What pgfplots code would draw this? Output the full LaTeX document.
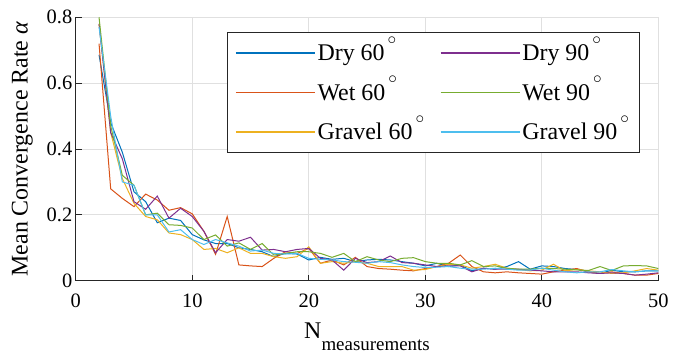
\documentclass[border=0pt]{standalone}
\usepackage{fontspec}
\setmainfont{Liberation Serif}
\usepackage{pgfplots}
\usepackage{pgfplotstable}
\pgfplotsset{compat=1.18}
\definecolor{cA}{HTML}{0072BD}
\definecolor{cB}{HTML}{D95319}
\definecolor{cC}{HTML}{EDB120}
\definecolor{cD}{HTML}{7E2F8E}
\definecolor{cE}{HTML}{77AC30}
\definecolor{cF}{HTML}{4DBEEE}
\definecolor{axc}{HTML}{262626}
\newcommand{\dg}{\hspace{3bp}\raisebox{16.5bp}{\fontsize{17}{17}\selectfont$\circ$}}

% x  Dry60  Wet60  Gravel60  Dry90  Wet90  Gravel90
\pgfplotstableread{
x  d60   w60   g60   d90   w90   g90
2  0.686 0.720 0.780 0.780 0.800 0.770
3  0.480 0.279 0.450 0.450 0.470 0.500
4  0.390 0.250 0.310 0.370 0.320 0.300
5  0.270 0.225 0.235 0.240 0.290 0.290
6  0.240 0.263 0.195 0.217 0.200 0.200
7  0.176 0.245 0.185 0.257 0.205 0.200
8  0.190 0.214 0.145 0.190 0.170 0.148
9  0.183 0.222 0.140 0.220 0.168 0.155
10 0.140 0.203 0.125 0.195 0.160 0.125
11 0.124 0.150 0.095 0.150 0.125 0.110
12 0.113 0.080 0.098 0.085 0.139 0.125
13 0.113 0.195 0.085 0.125 0.105 0.115
14 0.100 0.048 0.100 0.120 0.115 0.105
15 0.095 0.045 0.083 0.132 0.095 0.090
16 0.088 0.043 0.083 0.093 0.113 0.093
17 0.073 0.068 0.073 0.095 0.078 0.083
18 0.083 0.088 0.068 0.088 0.083 0.081
19 0.081 0.083 0.073 0.095 0.088 0.083
20 0.063 0.098 0.103 0.098 0.088 0.068
21 0.071 0.053 0.053 0.068 0.083 0.065
22 0.065 0.063 0.058 0.063 0.071 0.063
23 0.068 0.048 0.053 0.032 0.083 0.058
24 0.058 0.071 0.058 0.068 0.058 0.056
25 0.063 0.043 0.053 0.055 0.073 0.053
26 0.065 0.037 0.043 0.058 0.063 0.058
27 0.063 0.035 0.043 0.075 0.058 0.055
28 0.058 0.032 0.043 0.055 0.068 0.048
29 0.053 0.030 0.032 0.053 0.070 0.043
30 0.045 0.037 0.034 0.048 0.058 0.040
31 0.053 0.043 0.043 0.043 0.053 0.041
32 0.043 0.053 0.050 0.045 0.053 0.043
33 0.048 0.078 0.048 0.045 0.048 0.038
34 0.030 0.043 0.038 0.027 0.061 0.035
35 0.038 0.027 0.043 0.038 0.043 0.035
36 0.035 0.024 0.050 0.035 0.045 0.038
37 0.043 0.027 0.038 0.035 0.038 0.035
38 0.058 0.024 0.034 0.035 0.035 0.032
39 0.035 0.022 0.030 0.032 0.035 0.032
40 0.045 0.020 0.032 0.030 0.038 0.038
41 0.043 0.027 0.050 0.027 0.037 0.032
42 0.037 0.032 0.030 0.027 0.035 0.027
43 0.034 0.037 0.034 0.027 0.033 0.024
44 0.027 0.027 0.030 0.024 0.031 0.027
45 0.022 0.022 0.027 0.022 0.043 0.027
46 0.032 0.027 0.022 0.024 0.031 0.034
47 0.027 0.022 0.024 0.022 0.045 0.030
48 0.027 0.017 0.030 0.017 0.046 0.027
49 0.030 0.017 0.037 0.020 0.045 0.030
50 0.030 0.022 0.032 0.024 0.037 0.030
}\datatable

\begin{document}
\begin{tikzpicture}
\begin{axis}[
  scale only axis,
  width=582.5bp, height=263.4bp,
  xmin=0, xmax=50, ymin=0, ymax=0.8,
  xtick={0,10,20,30,40,50},
  ytick={0,0.2,0.4,0.6,0.8},
  yticklabels={0,0.2,0.4,0.6,0.8},
  axis x line*=bottom, axis y line*=left,
  x axis line style={-}, y axis line style={-},
  axis line style={color=axc, line width=1.1bp},
  tick align=inside,
  major tick length=6bp,
  tick style={color=axc, line width=1bp},
  grid=major,
  major grid style={color=black!12, line width=0.9bp},
  /pgf/number format/assume math mode=true,
  tick label style={font=\fontsize{20.5}{24}\selectfont},
  xticklabel style={yshift=-10bp},
  xlabel={N\raisebox{-12bp}{\fontsize{19}{20}\selectfont measurements}},
  xlabel style={yshift=-8bp},
  ylabel={Mean Convergence Rate \textit{α}},
  ylabel style={yshift=7bp},
  label style={font=\fontsize{24}{28}\selectfont},
  legend columns=2,
  legend style={
    at={(0.967,0.944)}, anchor=north east,
    draw=black!85, fill=white,
    font=\fontsize{24}{28}\selectfont,
    inner xsep=8bp, inner ysep=9.5bp,
    row sep=17bp,
    cells={anchor=west, text height=17bp, text depth=5bp, inner ysep=2bp, inner xsep=3bp},
    /tikz/every even column/.append style={column sep=14bp},
  },
  legend image code/.code={\draw[line width=1.2bp, #1] (0bp,0bp) -- (79bp,0bp);},
  every axis plot/.append style={line width=1bp},
]
\addplot[color=cA, forget plot] table[x=x, y=d60] {\datatable};
\addplot[color=cB, forget plot] table[x=x, y=w60] {\datatable};
\addplot[color=cC, forget plot] table[x=x, y=g60] {\datatable};
\addplot[color=cD, forget plot] table[x=x, y=d90] {\datatable};
\addplot[color=cE, forget plot] table[x=x, y=w90] {\datatable};
\addplot[color=cF, forget plot] table[x=x, y=g90] {\datatable};

\addlegendimage{draw=cA}\addlegendentry{Dry 60\dg}
\addlegendimage{draw=cD}\addlegendentry{Dry 90\dg}
\addlegendimage{draw=cB}\addlegendentry{Wet 60\dg}
\addlegendimage{draw=cE}\addlegendentry{Wet 90\dg}
\addlegendimage{draw=cC}\addlegendentry{Gravel 60\dg}
\addlegendimage{draw=cF}\addlegendentry{Gravel 90\dg}

\coordinate (bbsw) at (axis cs:-6.5,-0.2286);
\coordinate (bbne) at (axis cs:51.26,0.8525);
\end{axis}
\pgfresetboundingbox
\path[use as bounding box] (bbsw) rectangle (bbne);
\end{tikzpicture}
\end{document}
